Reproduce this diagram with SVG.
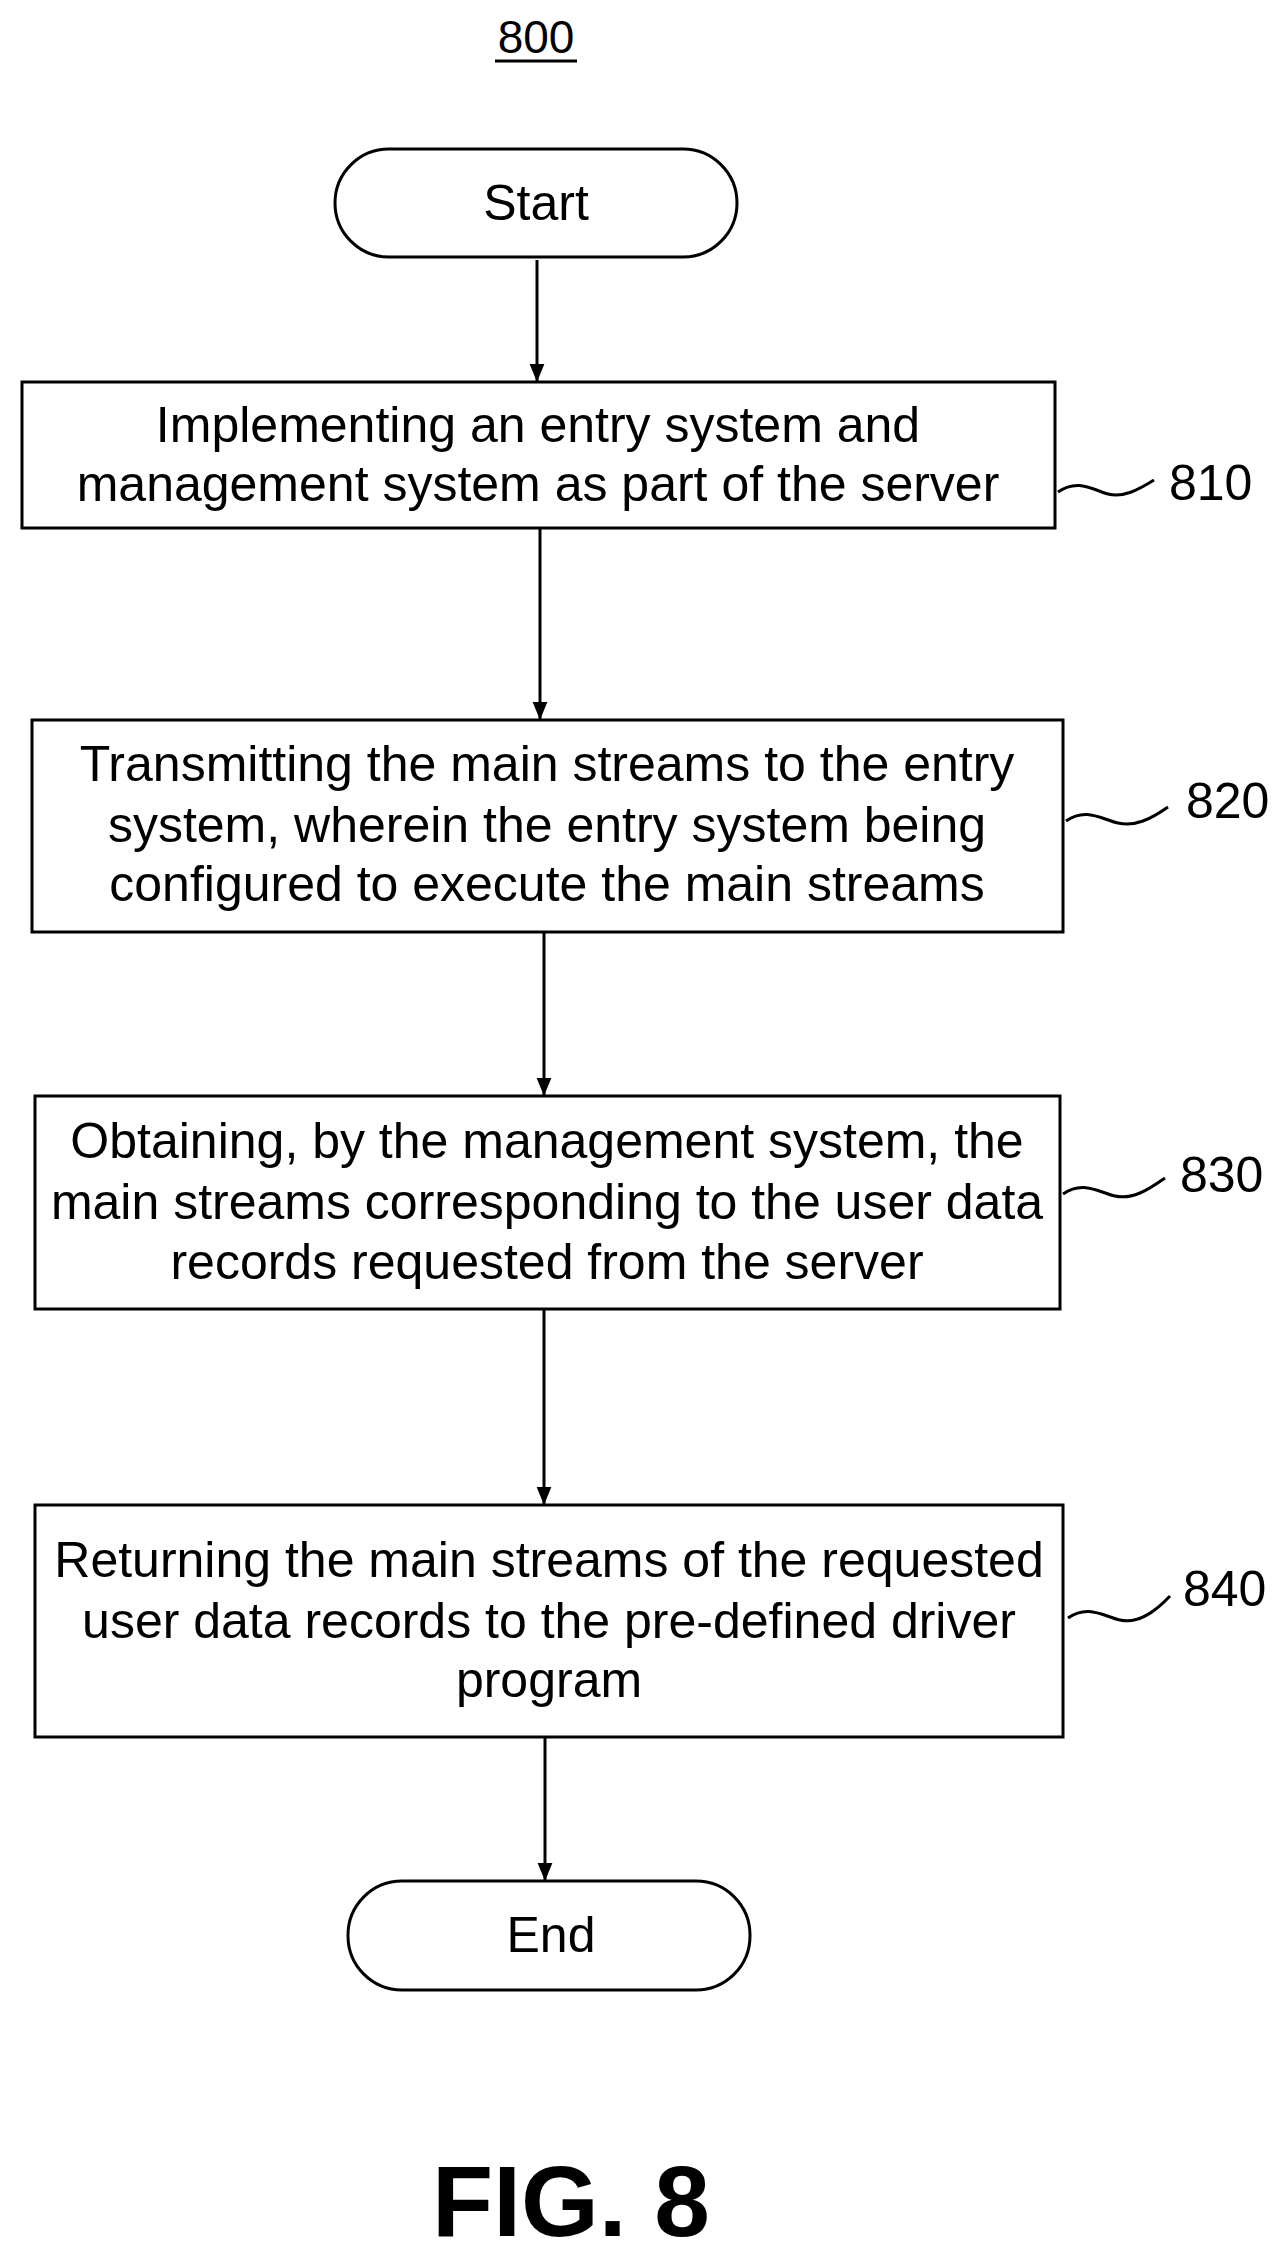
<svg xmlns="http://www.w3.org/2000/svg" width="1284" height="2254" viewBox="0 0 1284 2254">
<style>
.t{font-family:"Liberation Sans",Arial,sans-serif;font-size:50px;fill:#000;text-anchor:middle}
.l{font-family:"Liberation Sans",Arial,sans-serif;font-size:50px;fill:#000}
.b{fill:#fff;stroke:#000;stroke-width:3}
.c{stroke:#000;stroke-width:3;fill:none}
</style>
<defs><marker id="a" markerWidth="18" markerHeight="24" refX="22" refY="12" orient="auto" markerUnits="userSpaceOnUse" viewBox="0 0 22 24"><path d="M0,3 L22,12 L0,21 z" fill="#000"/></marker></defs>
<rect width="1284" height="2254" fill="#fff"/>
<g id="title"><text class="t" x="536" y="53" style="font-size:46px">800</text><line x1="495" y1="61" x2="577" y2="61" stroke="#000" stroke-width="3"/></g>
<g id="start"><rect class="b" x="335" y="149" width="402" height="108" rx="54"/><text class="t" x="536" y="220">Start</text></g>
<g id="n810"><rect class="b" x="22" y="382" width="1033" height="146"/><text class="t" x="538" y="442">Implementing an entry system and</text><text class="t" x="538" y="501">management system as part of the server</text></g>
<g id="n820"><rect class="b" x="32" y="720" width="1031" height="212"/><text class="t" x="547" y="781">Transmitting the main streams to the entry</text><text class="t" x="547" y="842">system, wherein the entry system being</text><text class="t" x="547" y="901">configured to execute the main streams</text></g>
<g id="n830"><rect class="b" x="35" y="1096" width="1025" height="213"/><text class="t" x="547" y="1158">Obtaining, by the management system, the</text><text class="t" x="547" y="1219">main streams corresponding to the user data</text><text class="t" x="547" y="1279">records requested from the server</text></g>
<g id="n840"><rect class="b" x="35" y="1505" width="1028" height="232"/><text class="t" x="549" y="1577">Returning the main streams of the requested</text><text class="t" x="549" y="1638">user data records to the pre-defined driver</text><text class="t" x="549" y="1697">program</text></g>
<g id="end"><rect class="b" x="348" y="1881" width="402" height="109" rx="54"/><text class="t" x="551" y="1952">End</text></g>
<g id="labels">
<path class="c" d="M1058,492 c20,-14 35,-2 50,2 s30,-4 46,-14"/><text class="l" x="1169" y="500">810</text>
<path class="c" d="M1066,821 c20,-14 35,-2 52,2 s33,-4 50,-16"/><text class="l" x="1186" y="818">820</text>
<path class="c" d="M1063,1194 c20,-14 35,-2 52,2 s33,-6 50,-18"/><text class="l" x="1180" y="1192">830</text>
<path class="c" d="M1068,1618 c20,-14 35,-2 52,2 s33,-6 50,-24"/><text class="l" x="1183" y="1606">840</text>
</g>
<g id="connectors">
<line class="c" x1="537" y1="260" x2="537" y2="382" marker-end="url(#a)"/>
<line class="c" x1="540" y1="528" x2="540" y2="720" marker-end="url(#a)"/>
<line class="c" x1="544" y1="932" x2="544" y2="1096" marker-end="url(#a)"/>
<line class="c" x1="544" y1="1309" x2="544" y2="1505" marker-end="url(#a)"/>
<line class="c" x1="545" y1="1737" x2="545" y2="1881" marker-end="url(#a)"/>
</g>
<text x="571" y="2236" style="font-family:'Liberation Sans',Arial,sans-serif;font-size:100px;font-weight:bold;text-anchor:middle">FIG. 8</text>
</svg>
